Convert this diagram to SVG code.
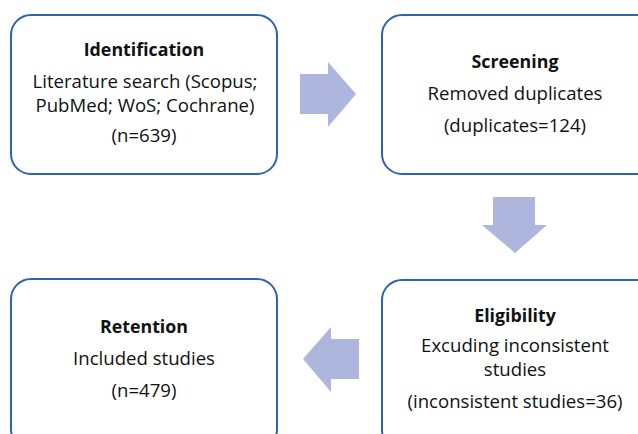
<svg xmlns="http://www.w3.org/2000/svg" width="638" height="434" viewBox="0 0 638 434">
<style>
.box{fill:#fff;stroke:#2E62B4;stroke-width:2}
.arr{fill:#AEB6DD}
text{font-family:"Open Sans","Liberation Sans",sans-serif;font-size:18.6px;fill:#111;text-anchor:middle}
.t{font-weight:bold;font-size:17.8px}
</style>
<rect width="638" height="434" fill="#fff"/>
<g id="connectors">
<polygon class="arr" points="300,74 328,74 328,62 356,94 328,127 328,114 300,114"/>
<polygon class="arr" points="493,197 535,197 535,225 547,225 515,253 482,225 493,225"/>
<polygon class="arr" points="359,339 331,339 331,327 303,359 331,392 331,379 359,379"/>
</g>
<g id="identification">
<rect class="box" x="11" y="15" width="266" height="159" rx="20"/>
<text class="t" x="144" y="56">Identification</text>
<text x="145" y="88">Literature search (Scopus;</text>
<text x="145" y="112">PubMed; WoS; Cochrane)</text>
<text x="144" y="142">(n=639)</text>
</g>
<g id="screening">
<rect class="box" x="382" y="15" width="276" height="159" rx="20"/>
<text class="t" x="515" y="68">Screening</text>
<text x="515" y="100">Removed duplicates</text>
<text x="515" y="132">(duplicates=124)</text>
</g>
<g id="eligibility">
<rect class="box" x="382" y="280" width="276" height="170" rx="20"/>
<text class="t" x="515" y="322">Eligibility</text>
<text x="515" y="352">Excuding inconsistent</text>
<text x="515" y="376">studies</text>
<text x="515" y="408">(inconsistent studies=36)</text>
</g>
<g id="retention">
<rect class="box" x="11" y="279" width="266" height="170" rx="20"/>
<text class="t" x="144" y="333">Retention</text>
<text x="144" y="365">Included studies</text>
<text x="144" y="397">(n=479)</text>
</g>
</svg>
